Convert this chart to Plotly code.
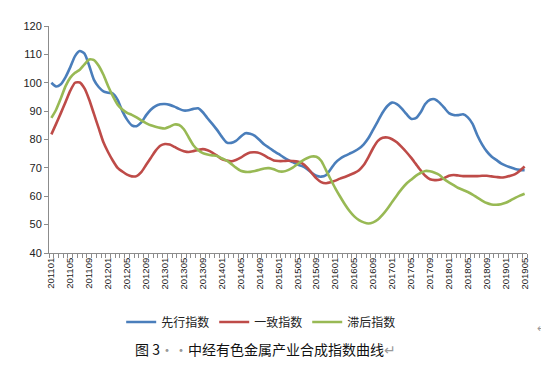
import plotly.graph_objects as go

# Months 201101 .. 201905
months = [f"{2011 + i // 12}{i % 12 + 1:02d}" for i in range(101)]

leading = [100, 98.7, 99.5, 102, 105.5, 109.4, 111.2, 110.3, 106, 101,
           98.5, 97, 96.5, 96.2, 94, 90, 87, 85, 84.7, 86,
           88.5, 90.5, 91.8, 92.4, 92.5, 92.2, 91.6, 90.8, 90.2, 90.3,
           90.8, 91, 89.6, 87.5, 85.5, 83.4, 81, 79, 78.8, 79.5,
           81, 82.2, 82, 81.3, 79.8, 78.2, 77.1, 75.9, 74.9, 73.8,
           72.8, 72, 71.2, 70.6, 69.6, 68.3, 67.2, 66.9, 67.4, 69.5,
           71.8, 73.2, 74.2, 75, 75.8, 76.8, 78.3, 80.5, 83.5, 86.5,
           89.5, 91.8, 93, 92.5, 91, 89, 87.3, 87.5, 89.5, 92.5,
           94, 94.2, 93, 91.2, 89.3, 88.6, 88.6, 88.9, 87.8, 85.5,
           81.5, 78.3, 75.8, 74, 72.8, 71.6, 70.8, 70.2, 69.6, 69.3,
           69.2]

coincident = [81.8, 85.5, 89.3, 93.2, 97.2, 100, 100.1, 98, 94, 89,
              84, 79, 75.5, 72.5, 70, 68.7, 67.6, 67, 67.1, 68.5,
              71, 73.5, 76, 77.8, 78.4, 78.2, 77.4, 76.5, 75.9, 75.6,
              75.9, 76.3, 76.6, 76.2, 75.4, 74.3, 73.1, 72.6, 72.3, 72.8,
              73.6, 74.7, 75.4, 75.5, 75.2, 74.4, 73.4, 72.6, 72.4, 72.4,
              72.5, 72.4, 72.2, 71.6, 70.2, 68.2, 66.3, 65, 64.6, 64.9,
              65.5, 66.2, 66.8, 67.5, 68.2, 69.2, 71, 73.8, 77, 79.5,
              80.6, 80.7, 80.1, 79, 77.4, 75.6, 73.6, 71.4, 69.2, 67.2,
              66, 65.7, 65.8, 66.4, 67.2, 67.5, 67.3, 67.1, 67.1, 67.1,
              67.1, 67.2, 67.2, 67, 66.8, 66.6, 66.8, 67.2, 67.8, 69,
              70.5]

lagging = [87.6, 90.5, 94.5, 98.8, 101.8, 103.5, 104.6, 106.5, 108.2, 108,
           106, 102.8, 98.8, 95.3, 92.3, 90.6, 89.4, 88.7, 87.8, 86.7,
           85.8, 85, 84.5, 84.1, 83.9, 84.5, 85.3, 85.1, 83.6, 80.8,
           78, 76.3, 75.2, 74.7, 74.4, 74.2, 73.4, 72.6, 71.4, 70.1,
           69, 68.6, 68.6, 68.9, 69.3, 69.8, 69.9, 69.5, 68.8, 68.7,
           69.2, 70.1, 71.3, 72.5, 73.4, 74, 73.9, 72.5, 69.3, 66,
           62.8, 59.9, 57.2, 54.8, 52.9, 51.6, 50.8, 50.4, 50.8, 51.8,
           53.5, 55.6, 58, 60.3, 62.5, 64.4, 65.8, 67.2, 68.2, 68.9,
           68.8, 68.3, 67.5, 66, 64.9, 63.9, 62.9, 62.2, 61.5, 60.6,
           59.5, 58.5, 57.6, 57.1, 57, 57.2, 57.7, 58.5, 59.4, 60.2,
           60.9]

series_names = ["先行指数", "一致指数", "滞后指数"]
series_values = [leading, coincident, lagging]
colors = ["#4A7EBB", "#BE4B48", "#98B954"]

x_idx = list(range(len(months)))
label_idx = x_idx[::4]
label_text = [months[i] for i in label_idx]

fig = go.Figure()
for name, vals, col in zip(series_names, series_values, colors):
    fig.add_trace(go.Scatter(
        x=x_idx, y=vals, mode="lines", name=name,
        line=dict(color=col, width=2.6, shape="spline", smoothing=0.6),
        hoverinfo="skip"))

# page body has an 8px default margin, so the figure is 8px smaller on each side
fig.update_layout(
    width=541, height=363,
    margin=dict(l=41, r=22, t=16, b=118),
    paper_bgcolor="white", plot_bgcolor="white",
    showlegend=True,
    legend=dict(orientation="h", xref="container", yref="container",
                x=0.468, y=0.135, xanchor="center", yanchor="middle",
                font=dict(family="Noto Sans CJK SC", size=12, color="#222"),
                itemwidth=30, tracegroupgap=0, bgcolor="rgba(0,0,0,0)"),
    font=dict(family="Liberation Sans", color="#222"),
)

fig.update_xaxes(
    range=[-0.5, len(months) - 0.5],
    tickmode="array", tickvals=label_idx, ticktext=label_text,
    tickangle=-90, tickfont=dict(size=9.5, family="Liberation Sans", color="#222"),
    ticks="", showgrid=False, zeroline=False,
    showline=True, linecolor="#8C8C8C", linewidth=1,
    minor=dict(tickmode="array", tickvals=[i - 0.5 for i in range(len(months) + 1)],
               ticks="outside", ticklen=4, tickcolor="#8C8C8C", tickwidth=1, showgrid=False),
)
fig.update_yaxes(
    range=[40, 120], tickmode="linear", tick0=40, dtick=10,
    tickfont=dict(size=11, family="Liberation Sans", color="#222"),
    ticks="outside", ticklen=4, tickcolor="#8C8C8C",
    showgrid=False, zeroline=False,
    showline=True, linecolor="#8C8C8C", linewidth=1,
)

fig.add_annotation(
    xref="paper", yref="paper", x=0.452, y=-0.424,
    text="图 3<span style='color:#999999'>··</span>中经有色金属产业合成指数曲线<span style='color:#999999'>↵</span>",
    showarrow=False, xanchor="center", yanchor="middle",
    font=dict(family="Noto Sans CJK SC", size=14, color="#111"))
fig.add_annotation(
    xref="paper", yref="paper", x=1.03, y=-0.328,
    text="↵", showarrow=False, xanchor="center", yanchor="middle",
    font=dict(family="Noto Sans CJK SC", size=11, color="#999999"))

fig.write_html("out.html")
